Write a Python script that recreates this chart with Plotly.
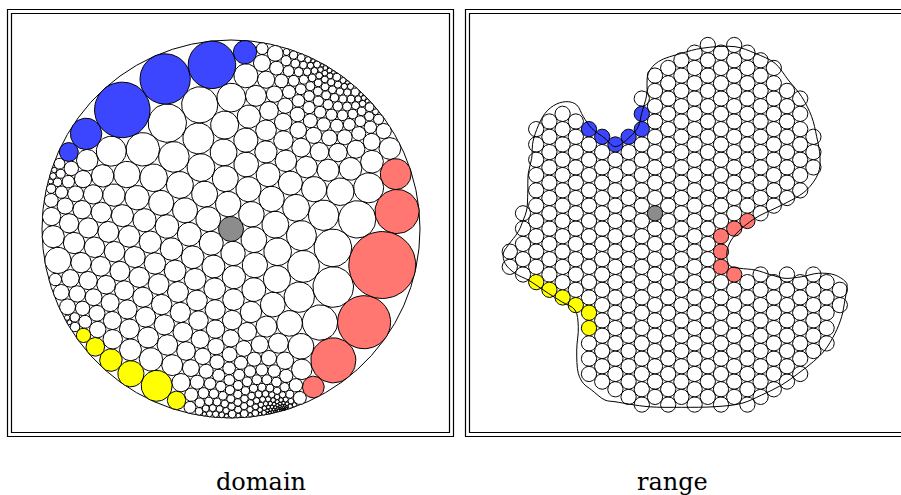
import numpy as np
import plotly.graph_objects as go

# Hex lattice of the "range" region: column -> inclusive (first, last) half-row spans.
# Cells in a column are two half-rows apart; odd columns sit on odd half-rows.
COLUMN_SPANS = {
    -11: [(5, 7)],
    -10: [(0, 8)],
    -9: [(-11, 9)],
    -8: [(-12, 10)],
    -7: [(-13, 11)],
    -6: [(-12, 12)],
    -5: [(-11, 21)],
    -4: [(-10, 22)],
    -3: [(-9, 23)],
    -2: [(-10, 24)],
    -1: [(-15, 25)],
    0: [(-18, 24)],
    1: [(-19, 25)],
    2: [(-20, 24)],
    3: [(-21, 25)],
    4: [(-22, 24)],
    5: [(-21, 25)],
    6: [(-22, 2), (8, 24)],
    7: [(-21, 1), (9, 25)],
    8: [(-20, 0), (8, 24)],
    9: [(-19, -1), (9, 23)],
    10: [(-16, -2), (8, 22)],
    11: [(-15, -3), (9, 21)],
    12: [(-10, -6), (8, 18)],
    13: [(9, 17)],
    14: [(10, 12)],
}

GREY_CELLS = [(0, 0)]
BLUE_CELLS = [(-5, -11), (-4, -10), (-3, -9), (-2, -10), (-1, -11), (-1, -13)]
YELLOW_CELLS = [(-9, 9), (-8, 10), (-7, 11), (-6, 12), (-5, 13), (-5, 15)]
RED_CELLS = [(7, 1), (6, 2), (5, 3), (5, 5), (5, 7), (6, 8)]

# Jordan curve around the range region, in lattice (column, half-row) units
OUTLINE_COL = [-9.34, -9.22, -8.33, -7.45, -6.57, -5.93, -5.43, -4.80, -3.79, -3.03,
               -1.89, -1.27, -1.01, -0.63, -0.51, 0.25, 2.02, 3.54, 6.06, 7.58,
               9.09, 10.10, 11.11, 11.87, 12.25, 12.50, 12.37, 11.49, 10.36, 9.09,
               7.58, 6.06, 5.53, 5.45, 5.68, 6.44, 7.58, 8.84, 9.85, 11.11,
               12.37, 13.64, 14.52, 14.52, 14.39, 14.14, 13.64, 12.88, 11.99, 10.86,
               9.60, 8.08, 6.57, 4.55, 2.02, -0.51, -3.03, -3.79, -4.80, -5.43,
               -5.81, -5.93, -5.81, -6.06, -7.07, -8.08, -9.02, -9.60, -10.61, -11.36,
               -11.49, -11.11, -10.36, -9.98, -9.72, -9.64, -9.60]
OUTLINE_ROW = [-7.19, -9.58, -13.07, -14.29, -14.59, -14.16, -12.63, -11.11, -9.80, -8.71,
               -10.01, -11.32, -13.07, -15.46, -18.30, -19.82, -20.92, -21.57, -21.78, -20.92,
               -19.61, -17.42, -15.24, -12.63, -10.01, -7.40, -5.23, -3.05, -1.74, -0.65,
               0.65, 2.84, 4.41, 5.84, 6.88, 7.19, 7.41, 8.07, 8.50, 8.29,
               7.84, 8.07, 9.15, 10.03, 11.33, 13.52, 15.69, 17.86, 19.40, 20.92,
               22.44, 23.75, 24.84, 25.28, 25.36, 25.28, 24.63, 24.41, 23.10, 22.22,
               20.92, 17.87, 14.82, 12.64, 11.56, 10.46, 9.37, 8.72, 7.84, 6.54,
               5.23, 4.14, 2.41, 0.88, -0.43, -2.61, -5.23]

# ---- page geometry (pixels) ----
W, H = 901, 495
LAT_X0, LAT_DX = 655.0, 13.2      # lattice column -> x
LAT_Y0, LAT_DY = 213.3, 7.65      # lattice half-row -> y
LAT_R = 7.63                      # drawn radius of a lattice circle
DISK_CX, DISK_CY, DISK_R = 231.0, 229.0, 189.0
ROT_REF, ROT_DEG = (5, 5), -35.0  # rotation normalisation of the disk packing

FILL = {"white": "#ffffff", "grey": "#8c8c8c", "blue": "#3c46ff",
        "yellow": "#ffff00", "red": "#ff7770"}

OFFS = [(1, -1), (0, -2), (-1, -1), (-1, 1), (0, 2), (1, 1)]  # counter-clockwise petals


def nbrs(v):
    return [(v[0] + di, v[1] + dm) for di, dm in OFFS]


# ---- build a triangulated disk from the lattice cells ----
S = set()
for col, spans in COLUMN_SPANS.items():
    for lo, hi in spans:
        S.update((col, m) for m in range(lo, hi + 1, 2))

while True:
    interior = {v for v in S if all(w in S for w in nbrs(v))}
    drop = set()
    for v in S - interior:
        pres = [w in S for w in nbrs(v)]
        face = [pres[k] and pres[(k + 1) % 6] for k in range(6)]
        runs = sum(1 for k in range(6) if face[k] and not face[k - 1])
        if sum(face) == 0 or runs > 1 or not any(w in interior for w in nbrs(v)):
            drop.add(v)
    if not drop:
        break
    S -= drop

order = sorted(S)
idx = {v: k for k, v in enumerate(order)}
n = len(order)
is_int = np.array([v in interior for v in order])
ints = [v for v in order if v in interior]
int_ids = np.array([idx[v] for v in ints])
PET = np.array([[idx[w] for w in nbrs(v)] for v in ints])
PET_NEXT = np.roll(PET, -1, axis=1)
int_row = {idx[v]: k for k, v in enumerate(ints)}


def petal_angle(s1, s2, s3):
    """Angle at circle 1 in a triple of tangent hyperbolic circles (s = exp(-r))."""
    a = s1 * s2
    b = s1 * s3
    num = (1 + a * a) * (1 + b * b) - 2 * s1 * s1 - 2 * (s1 * s2 * s3) ** 2
    den = (1 - a * a) * (1 - b * b)
    return np.arccos(np.clip(num / den, -1.0, 1.0))


# ---- maximal packing: boundary circles are horocycles (s = 0) ----
s = np.zeros(n)
s[int_ids] = 0.5
colour = np.array([v[1] % 3 for v in ints])
groups = [np.where(colour == c)[0] for c in range(3)]
delta = np.sin(np.pi / 6)
for sweep in range(2500):
    for g in groups:
        rows = int_ids[g]
        s1 = s[rows]
        theta = petal_angle(s1[:, None], s[PET[g]], s[PET_NEXT[g]]).sum(axis=1)
        r = -np.log(s1)
        beta = np.sin(theta / 12)
        den = 1 - beta * np.cosh(r)
        ok = den > 0
        t = np.where(ok, beta * np.sinh(r) / np.where(ok, den, 1.0), 2.0)
        inf = t >= 1
        rho = np.arctanh(np.where(inf, 0.5, t))
        r_new = np.where(inf, -np.log(delta), np.arcsinh(np.sinh(rho) / delta) - rho)
        s[rows] = np.exp(-r_new)


def mob(a, z):
    return (z + a) / (1 + np.conj(a) * z)


def mob_inv(a, w):
    return (w - a) / (1 - np.conj(a) * w)


# ---- lay out in the Poincare disk, grey cell at the origin ----
centres = np.zeros(n, dtype=complex)
placed = np.zeros(n, dtype=bool)
alpha = idx[GREY_CELLS[0]]
placed[alpha] = True
queue = [alpha]
head = 0
while head < len(queue):
    u = queue[head]
    head += 1
    pet = PET[int_row[u]]
    a = centres[u]
    su = s[u]
    known = [k for k in range(6) if placed[pet[k]]]
    if known:
        k0 = known[0]
        phi = np.angle(mob_inv(a, centres[pet[k0]]))
    else:
        k0, phi = 0, 0.0
    for step in range(6):
        k = (k0 + step) % 6
        j = pet[k]
        if not placed[j]:
            q = su * s[j]
            centres[j] = mob(a, (1 - q) / (1 + q) * np.exp(1j * phi))
            placed[j] = True
            if is_int[j]:
                queue.append(j)
        phi += float(petal_angle(su, s[j], s[pet[(k + 1) % 6]]))

centres *= np.exp(1j * (np.radians(ROT_DEG) - np.angle(centres[idx[ROT_REF]])))


def euclid_circle(k):
    c = centres[k]
    if is_int[k]:
        t = (1 - s[k]) / (1 + s[k])
        if abs(c) < 1e-12:
            return 0j, t
        uh = c / abs(c)
        e1, e2 = mob(c, -t * uh), mob(c, t * uh)
        return (e1 + e2) / 2, abs(e2 - e1) / 2
    # horocycle tangent to the unit circle at c
    v = order[k]
    u = next(idx[w] for w in nbrs(v) if w in interior)
    a = centres[u]
    tu = (1 - s[u]) / (1 + s[u])
    zp = mob_inv(a, c)
    p2 = mob(a, tu * zp / abs(zp))
    w = p2 - c
    rho = -abs(w) ** 2 / (2 * (w * np.conj(c)).real)
    return c * (1 - rho), rho


def group_of(v):
    if v in GREY_CELLS:
        return "grey"
    if v in BLUE_CELLS:
        return "blue"
    if v in YELLOW_CELLS:
        return "yellow"
    if v in RED_CELLS:
        return "red"
    return "white"


TH = np.linspace(0, 2 * np.pi, 61)
paths = {g: ([], []) for g in FILL}


def add_ring(g, cx, cy, rad):
    xs, ys = paths[g]
    xs.extend((cx + rad * np.cos(TH)).tolist())
    ys.extend((cy + rad * np.sin(TH)).tolist())
    xs.append(None)
    ys.append(None)


for k, v in enumerate(order):
    g = group_of(v)
    # range: regular hexagonal packing
    add_ring(g, LAT_X0 + LAT_DX * v[0], LAT_Y0 + LAT_DY * v[1], LAT_R)
    # domain: maximal packing in the unit disk
    cz, cr = euclid_circle(k)
    add_ring(g, DISK_CX + DISK_R * cz.real, DISK_CY - DISK_R * cz.imag, DISK_R * cr)

fig = go.Figure()

# unit circle of the domain
fig.add_trace(go.Scatter(
    x=(DISK_CX + DISK_R * np.cos(TH)).tolist(), y=(DISK_CY + DISK_R * np.sin(TH)).tolist(),
    mode="lines", line=dict(color="black", width=1), hoverinfo="skip"))

for g in ["white", "grey", "blue", "yellow", "red"]:
    xs, ys = paths[g]
    fig.add_trace(go.Scatter(
        x=xs, y=ys, mode="lines", fill="toself", fillcolor=FILL[g],
        line=dict(color="black", width=1.0), hoverinfo="skip"))

# boundary curve of the range region
ox = [LAT_X0 + LAT_DX * c for c in OUTLINE_COL] + [LAT_X0 + LAT_DX * OUTLINE_COL[0]]
oy = [LAT_Y0 + LAT_DY * r for r in OUTLINE_ROW] + [LAT_Y0 + LAT_DY * OUTLINE_ROW[0]]
fig.add_trace(go.Scatter(x=ox, y=oy, mode="lines",
                         line=dict(color="black", width=1, shape="spline", smoothing=1.0),
                         hoverinfo="skip"))

# double frames around the two panels
frames = [(7.5, 9.5, 453.5, 436.5), (11.5, 13.5, 449.5, 432.5),
          (465.5, 9.5, 915, 436.5), (469.5, 13.5, 911, 432.5)]
for x0, y0, x1, y1 in frames:
    fig.add_shape(type="rect", x0=x0, y0=y0, x1=x1, y1=y1, xref="x", yref="y",
                  line=dict(color="black", width=1.2), fillcolor="rgba(0,0,0,0)")

for label, xc in [("domain", 261), ("range", 672)]:
    fig.add_annotation(x=xc, y=482, xref="x", yref="y", text=label, showarrow=False,
                       font=dict(family="DejaVu Serif", size=24, color="black"),
                       xanchor="center", yanchor="middle")

fig.update_layout(
    width=W, height=H, margin=dict(l=0, r=0, t=0, b=0),
    paper_bgcolor="white", plot_bgcolor="white", showlegend=False, hovermode=False,
    xaxis=dict(range=[0, W], visible=False, fixedrange=True),
    yaxis=dict(range=[H, 0], visible=False, fixedrange=True),
)

fig.write_html("out.html")
